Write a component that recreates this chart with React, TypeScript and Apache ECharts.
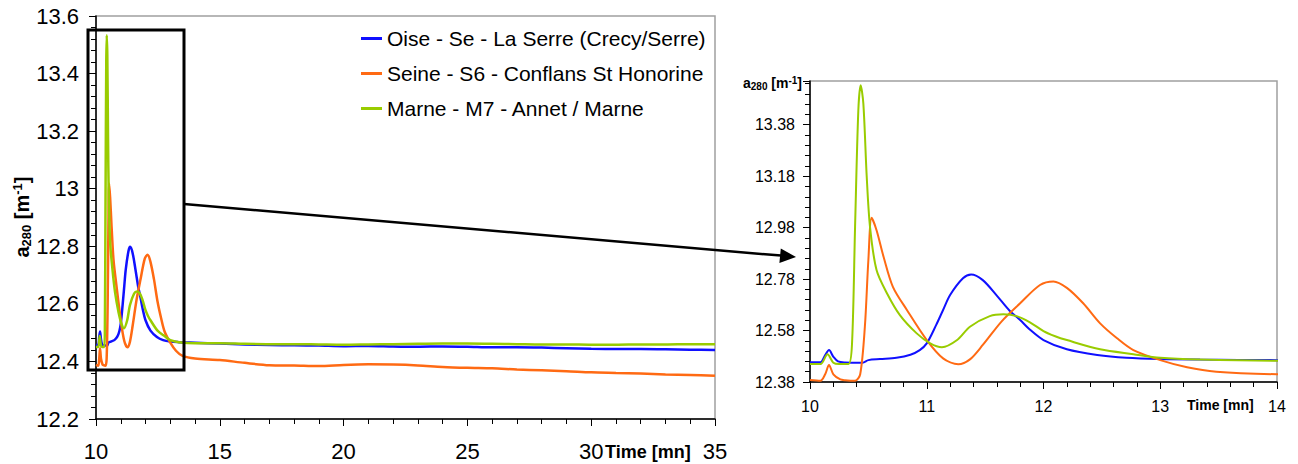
import React, { useEffect, useRef } from "react";
import * as echarts from "echarts";

// ---- Data (time in minutes, a280 in m^-1) ----
const oiseTime = [10, 10.09, 10.13, 10.163, 10.2, 10.24, 10.3, 10.45, 10.5, 10.6, 10.74, 10.86, 10.94, 11.0, 11.08, 11.14, 11.2, 11.31, 11.38, 11.48, 11.6, 11.71, 11.8, 11.88, 12.0, 12.2, 12.46, 12.71, 13.0, 13.34, 14.0, 15, 16, 17, 18, 19, 20, 21, 22, 23, 24, 25, 26, 27, 28, 29, 30, 31, 32, 33, 34, 35];
const oiseValue = [12.457, 12.457, 12.485, 12.504, 12.478, 12.46, 12.456, 12.455, 12.465, 12.469, 12.474, 12.486, 12.504, 12.53, 12.601, 12.66, 12.718, 12.783, 12.798, 12.776, 12.716, 12.657, 12.621, 12.585, 12.543, 12.507, 12.485, 12.474, 12.469, 12.467, 12.465, 12.462, 12.459, 12.457, 12.456, 12.455, 12.453, 12.454, 12.452, 12.451, 12.452, 12.451, 12.449, 12.449, 12.448, 12.446, 12.444, 12.443, 12.443, 12.442, 12.441, 12.44];

const seineTime = [10, 10.09, 10.13, 10.163, 10.2, 10.26, 10.3, 10.386, 10.43, 10.47, 10.5, 10.528, 10.57, 10.63, 10.71, 10.83, 11.0, 11.14, 11.27, 11.37, 11.48, 11.64, 11.8, 11.97, 12.085, 12.2, 12.34, 12.485, 12.63, 12.77, 13.0, 13.23, 13.48, 14.0, 15, 16, 17, 18, 19, 20, 21, 22, 23, 24, 25, 26, 27, 28, 29, 30, 31, 32, 33, 34, 35];
const seineValue = [12.388, 12.385, 12.41, 12.446, 12.41, 12.39, 12.387, 12.385, 12.41, 12.595, 12.854, 13.018, 12.97, 12.867, 12.75, 12.66, 12.543, 12.472, 12.449, 12.468, 12.524, 12.615, 12.686, 12.757, 12.771, 12.746, 12.686, 12.608, 12.55, 12.504, 12.465, 12.437, 12.42, 12.41, 12.405, 12.395, 12.387, 12.386, 12.384, 12.388, 12.39, 12.389, 12.386, 12.381, 12.378, 12.376, 12.372, 12.369, 12.366, 12.362, 12.36, 12.358, 12.355, 12.353, 12.35];

const marneTime = [10, 10.09, 10.15, 10.2, 10.25, 10.33, 10.36, 10.386, 10.414, 10.434, 10.457, 10.486, 10.514, 10.57, 10.66, 10.77, 10.914, 11.03, 11.13, 11.26, 11.37, 11.54, 11.656, 11.77, 11.884, 12.0, 12.1, 12.2, 12.485, 12.77, 13.0, 13.34, 14.0, 15, 16, 17, 18, 19, 20, 21, 22, 23, 24, 25, 26, 27, 28, 29, 30, 31, 32, 33, 34, 35];
const marneValue = [12.45, 12.45, 12.488, 12.455, 12.45, 12.45, 12.53, 12.983, 13.436, 13.533, 13.462, 13.177, 12.983, 12.815, 12.724, 12.64, 12.569, 12.53, 12.515, 12.543, 12.595, 12.636, 12.643, 12.636, 12.612, 12.578, 12.558, 12.543, 12.507, 12.488, 12.474, 12.467, 12.463, 12.463, 12.461, 12.46, 12.46, 12.459, 12.458, 12.459, 12.46, 12.461, 12.462, 12.462, 12.461, 12.46, 12.459, 12.459, 12.458, 12.458, 12.459, 12.459, 12.46, 12.46];

const seriesNames = [
  "Oise - Se - La Serre (Crecy/Serre)",
  "Seine - S6 - Conflans St Honorine",
  "Marne - M7 - Annet / Marne",
];
const seriesColors = ["#1010ff", "#ff6a13", "#99cc00"];

const FONT = 'Arial, "Liberation Sans", sans-serif';

function zip(t: number[], v: number[]) {
  return t.map((x, i) => [x, v[i]]);
}

export default function App() {
  const ref = useRef<HTMLDivElement>(null);
  useEffect(() => {
    if (!ref.current) return;
    const chart = echarts.init(ref.current, null, { renderer: "svg" });
    const datasets = [zip(oiseTime, oiseValue), zip(seineTime, seineValue), zip(marneTime, marneValue)];

    const axisCommon = (fs: number, margin: number) => ({
      type: "value" as const,
      axisLine: { show: true, lineStyle: { color: "#000", width: 1.5 } },
      axisTick: { show: true, length: 7, lineStyle: { color: "#000", width: 1 } },
      minorTick: { show: true, splitNumber: 5, length: 5, lineStyle: { color: "#000", width: 1 } },
      splitLine: { show: false },
      minorSplitLine: { show: false },
      axisLabel: { fontSize: fs, color: "#000", fontFamily: FONT, margin },
    });

    const series: any[] = [];
    [0, 1].forEach((g) => {
      datasets.forEach((d, i) => {
        series.push({
          type: "line",
          name: seriesNames[i],
          xAxisIndex: g,
          yAxisIndex: g,
          data: d,
          showSymbol: false,
          smooth: 0.3,
          clip: true,
          color: seriesColors[i],
          lineStyle: { width: g === 0 ? 2.5 : 2, color: seriesColors[i] },
        });
      });
    });

    const nameRich = (main: number, small: number) => ({
      a: { fontSize: main, fontWeight: "bold", fontFamily: FONT, color: "#000", lineHeight: main + 2, verticalAlign: "middle" },
      s: { fontSize: small, fontWeight: "bold", fontFamily: FONT, color: "#000", lineHeight: small, verticalAlign: "bottom" },
      p: { fontSize: small, fontWeight: "bold", fontFamily: FONT, color: "#000", lineHeight: small, verticalAlign: "top" },
    });

    chart.setOption({
      animation: false,
      backgroundColor: "#fff",
      legend: {
        data: seriesNames,
        orient: "vertical",
        left: 356,
        top: 23,
        itemWidth: 21,
        itemHeight: 3,
        itemGap: 14,
        icon: "rect",
        textStyle: { fontSize: 21, color: "#000", fontFamily: FONT },
      },
      grid: [
        { left: 96, top: 16, width: 619, height: 403, show: true, borderColor: "#a0a0a0", borderWidth: 1.5 },
        { left: 810, top: 81, width: 467, height: 301, show: true, borderColor: "#a0a0a0", borderWidth: 1.5 },
      ],
      xAxis: [
        { ...axisCommon(22, 21), gridIndex: 0, min: 10, max: 35, interval: 5 },
        { ...axisCommon(16, 16), gridIndex: 1, min: 10, max: 14, interval: 1 },
      ],
      yAxis: [
        { ...axisCommon(22, 17), gridIndex: 0, min: 12.2, max: 13.6, interval: 0.2 },
        {
          ...axisCommon(16, 15),
          gridIndex: 1,
          min: 12.38,
          max: 13.55,
          interval: 0.2,
          axisLabel: {
            fontSize: 16,
            color: "#000",
            fontFamily: FONT,
            margin: 15,
            showMaxLabel: false,
            formatter: (v: number) => v.toFixed(2),
          },
        },
      ],
      series,
      graphic: [
        {
          type: "rect",
          shape: { x: 88, y: 30, width: 96, height: 340 },
          style: { fill: "none", stroke: "#000", lineWidth: 3 },
          z: 100,
        },
        {
          type: "line",
          shape: { x1: 184, y1: 204, x2: 781, y2: 255.6 },
          style: { stroke: "#000", lineWidth: 2.5 },
          z: 100,
        },
        {
          type: "polygon",
          shape: { points: [[796, 257], [779.4, 263], [780.8, 248.4]] },
          style: { fill: "#000" },
          z: 100,
        },
        {
          type: "text",
          x: 605,
          y: 452,
          style: { text: "Time [mn]", fontSize: 18, fontWeight: "bold", fontFamily: FONT, fill: "#000", verticalAlign: "middle", align: "left" },
          z: 100,
        },
        {
          type: "text",
          x: 1187,
          y: 405,
          style: { text: "Time [mn]", fontSize: 14, fontWeight: "bold", fontFamily: FONT, fill: "#000", verticalAlign: "middle", align: "left" },
          z: 100,
        },
        {
          type: "text",
          x: 22,
          y: 217,
          rotation: Math.PI / 2,
          style: {
            text: "{a|a}{s|280}{a| [m}{p|-1}{a|]}",
            rich: nameRich(20, 13),
            align: "center",
            verticalAlign: "middle",
          },
          z: 100,
        },
        {
          type: "text",
          x: 743,
          y: 83,
          style: {
            text: "{a|a}{s|280}{a| [m}{p|-1}{a|]}",
            rich: nameRich(14, 10),
            align: "left",
            verticalAlign: "middle",
          },
          z: 100,
        },
      ],
    });
    return () => chart.dispose();
  }, []);
  return (
    <div
      ref={ref}
      style={{ position: "fixed", left: 0, top: 0, width: 1298, height: 464, background: "#fff" }}
    />
  );
}
